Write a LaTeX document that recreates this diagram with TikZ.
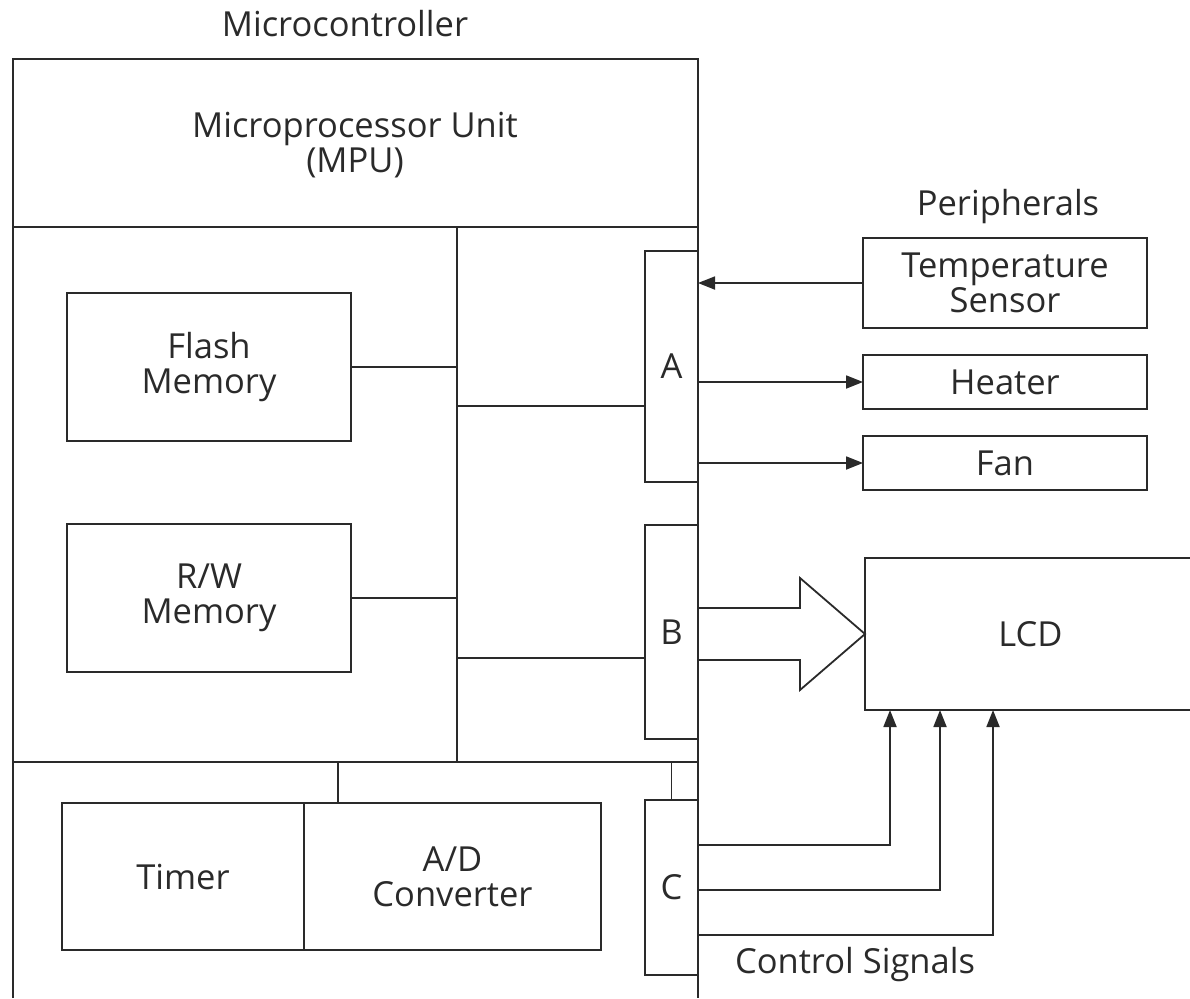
\documentclass[tikz,border=0pt]{standalone}
\usepackage{fontspec}
\setmainfont{Open Sans}
\usetikzlibrary{arrows.meta}
\definecolor{ink}{HTML}{2A2A2A}
\tikzset{
  every node/.style={font=\fontsize{34.5}{35}\selectfont, text=ink, align=center},
  box/.style={draw=ink, line width=1.8pt, inner sep=0pt, outer sep=0pt, align=center},
  wire/.style={draw=ink, line width=1.8pt},
  arr/.style={wire, -{Triangle[length=17pt,width=13pt]}},
}
\begin{document}
\begin{tikzpicture}[x=1pt,y=-1pt]
\useasboundingbox (0,0) rectangle (1190,998);
% outer microcontroller frame
\draw[wire] (13,998) -- (13,59) -- (698,59) -- (698,998);
\draw[wire] (13,227) -- (698,227);
\draw[wire] (13,762) -- (698,762);
\node (title) at (345,24) {Microcontroller};
\node (mpu) at (355,145) {Microprocessor Unit\\(MPU)};
% internal blocks
\node[box, minimum width=284pt, minimum height=148pt] (flash) at (209,367) {Flash\\Memory};
\node[box, minimum width=284pt, minimum height=148pt] (rw) at (209,598) {R/W\\Memory};
\node[box, minimum width=53pt, minimum height=231pt] (pa) at (671.5,366.5) {A};
\node[box, minimum width=53pt, minimum height=214pt] (pb) at (671.5,632) {B};
\node[box, minimum width=53pt, minimum height=175pt] (pc) at (671.5,887.5) {C};
\node[box, minimum width=242pt, minimum height=147pt] (timer) at (183,876.5) {Timer};
\node[box, minimum width=297pt, minimum height=147pt] (adc) at (452.5,876.5) {A/D\\Converter};
% bus
\coordinate (bt) at (457,227);
\coordinate (bb) at (457,762);
\draw[wire] (bt) -- (bb);
\draw[wire] (flash.east) -- (flash.east -| bt);
\draw[wire] (rw.east) -- (rw.east -| bt);
\draw[wire] (bt |- 0,406) -- (pa.west |- 0,406);
\draw[wire] (bt |- 0,658) -- (pb.west |- 0,658);
\draw[wire] (338,762) -- (adc.north -| 338,0);
\draw[wire] (pc.north) -- (pc.north |- bb);
% peripherals
\node (periph) at (1008,207) {Peripherals};
\node[box, minimum width=284pt, minimum height=90pt] (sensor) at (1005,283) {Temperature\\Sensor};
\node[box, minimum width=284pt, minimum height=54pt] (heater) at (1005,382) {Heater};
\node[box, minimum width=284pt, minimum height=54pt] (fan) at (1005,463) {Fan};
\node[box, minimum width=331pt, minimum height=152pt] (lcd) at (1030.5,634) {LCD};
\draw[arr] (sensor.west) -- (pa.east |- sensor.west);
\draw[arr] (pa.east |- heater.west) -- (heater.west);
\draw[arr] (pa.east |- fan.west) -- (fan.west);
% wide bus arrow B -> LCD
\draw[wire, line join=miter] (pb.east |- 0,608) -- (800,608) -- (800,578) -- (lcd.west) -- (800,690) -- (800,660) -- (pb.east |- 0,660);
% control signals
\draw[arr] (pc.east |- 0,845) -- (890,845) -- (lcd.south -| 890,0);
\draw[arr] (pc.east |- 0,890) -- (940,890) -- (lcd.south -| 940,0);
\draw[arr] (pc.east |- 0,935) -- (993,935) -- (lcd.south -| 993,0);
\node (ctrl) at (855,965) {Control Signals};
\end{tikzpicture}
\end{document}
